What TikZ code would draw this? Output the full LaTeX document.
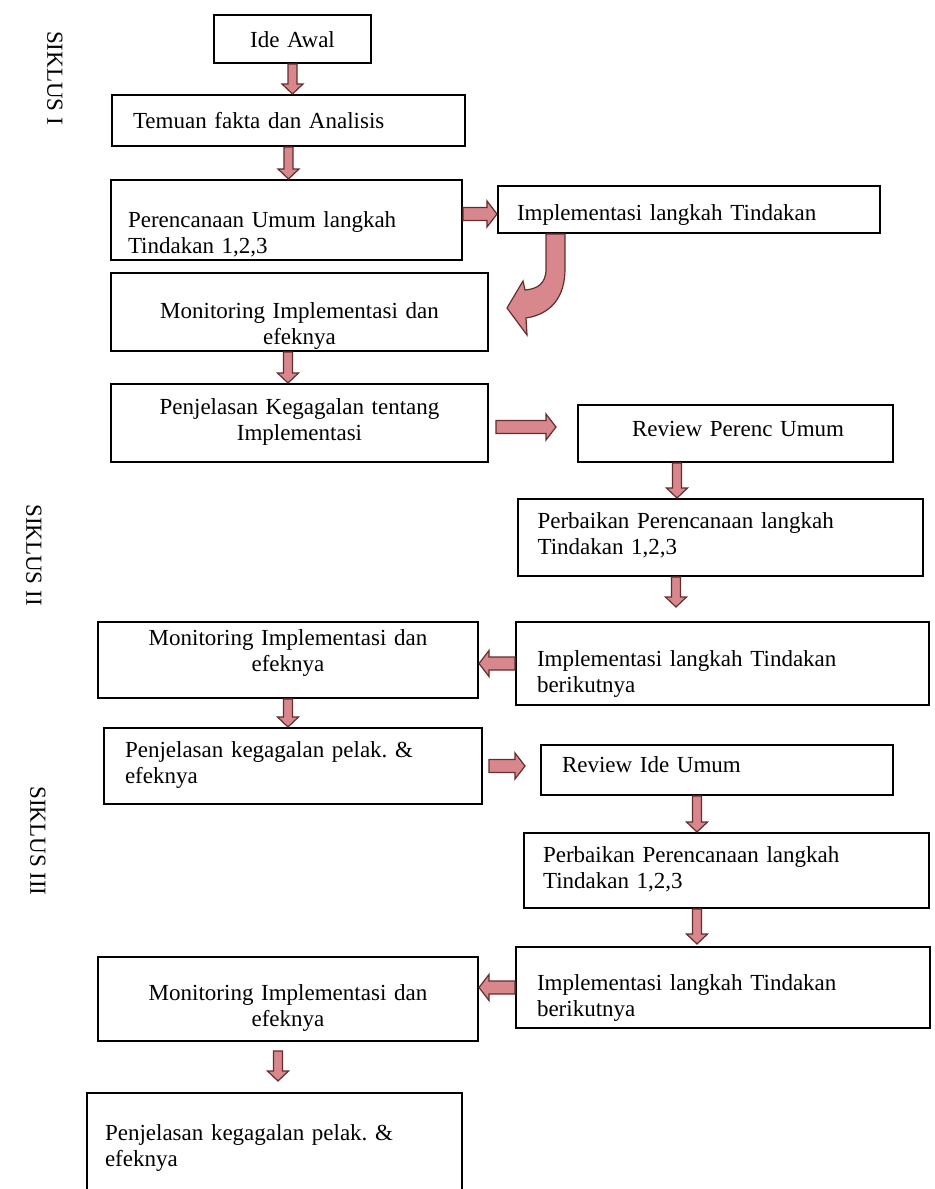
\documentclass[tikz,border=0pt]{standalone}
\usepackage{fontspec}
\setmainfont{Liberation Serif}
\usetikzlibrary{calc, positioning}
\frenchspacing

\definecolor{arrowpink}{RGB}{216,136,140}
\definecolor{arrowrim}{RGB}{100,45,45}
\newcommand*{\pxl}{0.5pt}

\begin{document}
\begin{tikzpicture}[
        x=0.5pt, y=-0.5pt,
        box/.style={draw, rectangle, line width=1pt, inner sep=0pt,
          font=\fontsize{11.5}{13}\selectfont},
        % first baseline #1 px below the centre
        tb/.style={text height={10pt+(#1)*0.5pt}, text depth={10pt-(#1)*0.5pt}},
        siklus/.style={rotate=-90, font=\fontsize{11.5}{13}\selectfont},
        fat/.style={fill=arrowpink, draw=arrowrim, line width=0.6pt},
        fatdown/.style={fat, to path={let \p1=(\tikztostart), \p2=(\tikztotarget) in
          (\x1-2.25pt,\y1) -- (\x1-2.25pt,\y2+5pt) -- (\x1-5.25pt,\y2+5pt) -- (\x1,\y2)
          -- (\x1+5.25pt,\y2+5pt) -- (\x1+2.25pt,\y2+5pt) -- (\x1+2.25pt,\y1) -- cycle}},
        fatright/.style={fat, to path={let \p1=(\tikztostart), \p2=(\tikztotarget) in
          (\x1,\y1-3.25pt) -- (\x2-5pt,\y1-3.25pt) -- (\x2-5pt,\y1-6.5pt) -- (\x2,\y1)
          -- (\x2-5pt,\y1+6.5pt) -- (\x2-5pt,\y1+3.25pt) -- (\x1,\y1+3.25pt) -- cycle}},
        fatleft/.style={fat, to path={let \p1=(\tikztostart), \p2=(\tikztotarget) in
          (\x1,\y1-3.25pt) -- (\x2+5pt,\y1-3.25pt) -- (\x2+5pt,\y1-6.5pt) -- (\x2,\y1)
          -- (\x2+5pt,\y1+6.5pt) -- (\x2+5pt,\y1+3.25pt) -- (\x1,\y1+3.25pt) -- cycle}},
    ]
        \useasboundingbox (0,0) rectangle (935,1189);

        \node[siklus] (s1) at (55,78) {SIKLUS I};
        \node[siklus] (s2) at (34,555) {SIKLUS II};
        \node[siklus] (s3) at (38,841) {SIKLUS III};

        % siklus I
        \node[box, minimum width=157*\pxl, minimum height=48*\pxl, text width=137*\pxl,
          align=center, tb=8] (ide) at (292.5,39) {Ide Awal};
        \node[box, minimum width=353*\pxl, minimum height=51*\pxl, text width=311*\pxl,
          align=left, tb=7.5] (temuan) at (288.5,120.5) {Temuan fakta dan Analisis};
        \node[box, minimum width=351*\pxl, minimum height=80*\pxl, text width=317*\pxl,
          align=left, tb=7] (renc) at (286.5,220) {Perencanaan Umum langkah\\Tindakan 1,2,3};
        \node[box, minimum width=382*\pxl, minimum height=47*\pxl, text width=344*\pxl,
          align=left, tb=10.5] (impl1) at (689,209.5) {Implementasi langkah Tindakan};
        \node[box, minimum width=377*\pxl, minimum height=78*\pxl, text width=357*\pxl,
          align=center, tb=6] (mon1) at (299.5,312) {Monitoring Implementasi dan\\efeknya};
        \node[box, minimum width=377*\pxl, minimum height=78*\pxl, text width=357*\pxl,
          align=center, tb=-9] (pkt1) at (299.5,423) {Penjelasan Kegagalan tentang\\Implementasi};

        % siklus II
        \node[box, minimum width=315*\pxl, minimum height=57*\pxl, text width=207*\pxl,
          align=left, tb=2.5] (rpu) at (735.5,433.5) {Review~Perenc~Umum};
        \node[box, minimum width=405*\pxl, minimum height=77*\pxl, text width=365*\pxl,
          align=left, tb=-9.5] (pbk2) at (720,537.5) {Perbaikan Perencanaan langkah\\Tindakan 1,2,3};
        \node[box, minimum width=413*\pxl, minimum height=83*\pxl, text width=371*\pxl,
          align=left, tb=2.5] (impl2) at (722.5,663.5) {Implementasi langkah Tindakan\\berikutnya};
        \node[box, minimum width=380*\pxl, minimum height=76*\pxl, text width=360*\pxl,
          align=center, tb=-15] (mon2) at (288,660) {Monitoring Implementasi dan\\efeknya};
        \node[box, minimum width=378*\pxl, minimum height=76*\pxl, text width=336*\pxl,
          align=left, tb=-9] (pjl2) at (293,766) {Penjelasan kegagalan pelak. \&\\efeknya};

        % siklus III
        \node[box, minimum width=352*\pxl, minimum height=50*\pxl, text width=310*\pxl,
          align=left, tb=2] (rid) at (717,770) {Review Ide Umum};
        \node[box, minimum width=405*\pxl, minimum height=75*\pxl, text width=367*\pxl,
          align=left, tb=-8.5] (pbk3) at (726.5,870.5) {Perbaikan Perencanaan langkah\\Tindakan 1,2,3};
        \node[box, minimum width=414*\pxl, minimum height=81*\pxl, text width=372*\pxl,
          align=left, tb=2.5] (impl3) at (723,987.5) {Implementasi langkah Tindakan\\berikutnya};
        \node[box, minimum width=380*\pxl, minimum height=84*\pxl, text width=360*\pxl,
          align=center, tb=1] (mon3) at (288,999) {Monitoring Implementasi dan\\efeknya};
        \node[box, minimum width=375*\pxl, minimum height=110*\pxl, text width=339*\pxl,
          align=left, tb=-8] (pjl3) at (274.5,1148) {Penjelasan kegagalan pelak. \&\\efeknya};

        \draw[fatdown] (ide.south) to (temuan.north);
        \draw[fatdown] (temuan.south) to (renc.north);
        \draw[fatright] ([yshift=3pt]renc.east) to (impl1.west);
        \draw[fat, shift={(impl1.south west)}] (49,0) -- (49,35)
          .. controls (49,50) and (40,55) .. (28,56) -- (26,47) -- (10,74) -- (30,101)
          -- (29,84) .. controls (55,80) and (68,62) .. (68,35) -- (68,0) -- cycle;
        \draw[fatdown] ([xshift=-5.75pt]mon1.south) to (pkt1.north);
        \draw[fatright] ([xshift=3.5pt, yshift=-2pt]pkt1.east) to ([xshift=-10.5pt]rpu.west);
        \draw[fatdown] ([xshift=-29.25pt]rpu.south) to (pbk2.north);
        \draw[fatdown] ([xshift=-22pt]pbk2.south) to ([yshift=7pt]impl2.north);
        \draw[fatleft] (impl2.west) to (mon2.east);
        \draw[fatdown] (mon2.south) to (pjl2.north);
        \draw[fatright] ([xshift=3pt]pjl2.east) to ([xshift=-7.5pt]rid.west);
        \draw[fatdown] ([xshift=-10pt]rid.south) to (pbk3.north);
        \draw[fatdown] ([xshift=-14.75pt]pbk3.south) to ([yshift=1pt]impl3.north);
        \draw[fatleft] (impl3.west) to (mon3.east);
        \draw[fatdown] ([xshift=-5pt, yshift=-4.5pt]mon3.south) to ([yshift=5.5pt]pjl3.north);
    \end{tikzpicture}
\end{document}
